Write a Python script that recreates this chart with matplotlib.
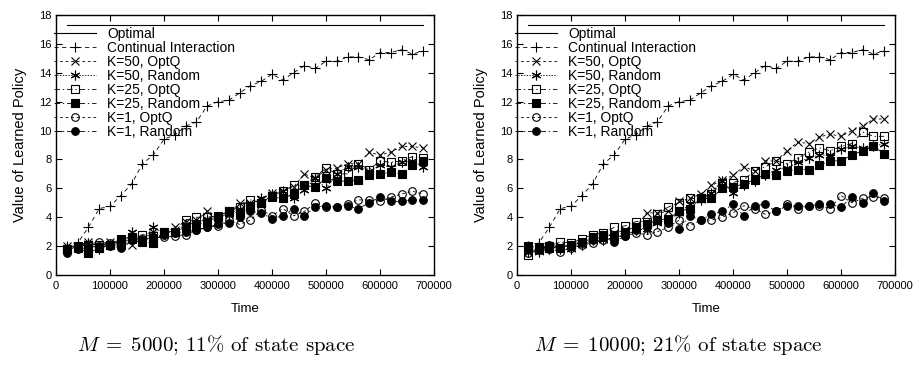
import numpy as np
import matplotlib
matplotlib.use("Agg")
import matplotlib.pyplot as plt

plt.rcParams['font.family'] = ['Liberation Sans', 'DejaVu Sans']
plt.rcParams['mathtext.fontset'] = 'cm'
plt.rcParams['lines.scale_dashes'] = False

# --- data ---
time = np.arange(20000, 700000, 20000)
optimal_value = 17.3

continual = [2.0, 2.2, 3.3, 4.6, 4.75, 5.5, 6.3, 7.7, 8.3, 9.4, 9.7, 10.3, 10.6, 11.7, 12.0, 12.1, 12.6,
             13.1, 13.4, 13.9, 13.5, 14.0, 14.5, 14.3, 14.8, 14.8, 15.1, 15.1, 14.9, 15.4, 15.4, 15.6, 15.3, 15.5]

# M = 5000
m5_k50_optq = [2.0, 2.0, 2.3, 2.0, 2.3, 2.2, 2.1, 2.5, 3.0, 2.9, 3.3, 3.7, 3.8, 4.4, 4.1, 4.2, 5.0,
               5.0, 5.2, 5.7, 5.8, 6.1, 7.0, 6.7, 7.3, 7.4, 7.7, 7.7, 8.5, 8.3, 8.5, 8.9, 8.9, 8.8]
m5_k50_rand = [1.9, 2.0, 2.2, 1.8, 2.1, 2.0, 3.0, 2.4, 3.3, 2.9, 3.0, 3.5, 3.6, 3.9, 4.0, 4.2, 4.6,
               4.8, 5.3, 5.6, 5.8, 5.3, 5.9, 6.7, 6.0, 7.0, 7.5, 7.5, 7.2, 7.6, 7.5, 7.8, 7.9, 7.5]
m5_k25_optq = [1.8, 2.0, 2.1, 2.1, 2.1, 2.3, 2.5, 2.8, 2.7, 3.0, 3.0, 3.8, 4.0, 4.0, 4.1, 4.4, 4.7,
               5.2, 5.0, 5.5, 5.8, 6.2, 6.2, 6.8, 7.4, 7.0, 7.0, 7.7, 7.3, 7.9, 7.8, 7.9, 8.2, 8.1]
m5_k25_rand = [1.8, 1.9, 1.5, 1.9, 2.1, 2.5, 2.6, 2.3, 2.2, 3.0, 3.0, 3.3, 3.5, 3.7, 4.0, 4.4, 4.3,
               4.8, 5.0, 5.4, 5.3, 5.6, 6.2, 6.1, 6.7, 6.5, 6.5, 6.6, 6.9, 7.0, 7.1, 7.0, 7.6, 7.9]
m5_k1_optq = [1.7, 2.0, 2.1, 2.3, 2.2, 2.1, 2.6, 2.5, 2.6, 2.6, 2.7, 2.8, 3.1, 3.3, 3.4, 3.8, 3.5,
              3.8, 4.5, 4.1, 4.6, 4.1, 4.4, 5.0, 4.7, 4.7, 4.9, 5.2, 5.2, 5.1, 5.4, 5.6, 5.8, 5.6]
m5_k1_rand = [1.5, 1.8, 1.9, 2.0, 2.0, 1.9, 2.4, 2.4, 2.6, 2.8, 2.9, 3.0, 3.1, 3.3, 3.5, 3.6, 4.0,
              4.4, 4.3, 3.9, 4.1, 4.6, 4.1, 4.7, 4.8, 4.7, 4.8, 4.6, 5.0, 5.4, 5.1, 5.1, 5.2, 5.2]

# M = 10000
m10_k50_optq = [1.6, 1.8, 2.0, 2.0, 2.0, 2.3, 2.5, 2.6, 2.9, 3.1, 3.3, 4.3, 4.3, 4.4, 5.1, 5.3, 5.6,
                6.2, 6.55, 6.9, 7.5, 7.2, 7.9, 7.9, 8.6, 9.2, 9.1, 9.55, 9.75, 9.6, 10.0, 10.3, 10.8, 10.8]
m10_k50_rand = [1.6, 1.6, 1.8, 1.8, 1.8, 2.1, 2.4, 2.4, 2.6, 2.8, 3.1, 3.2, 3.6, 3.8, 4.3, 4.9, 5.2,
                5.7, 6.5, 5.7, 6.2, 6.5, 6.9, 7.3, 7.4, 7.8, 8.1, 8.3, 8.3, 8.7, 8.9, 8.8, 8.9, 9.1]
m10_k25_optq = [1.4, 1.9, 2.0, 2.3, 2.2, 2.5, 2.8, 2.9, 3.3, 3.4, 3.7, 3.7, 4.2, 4.7, 5.0, 5.3, 5.3,
                5.6, 6.4, 6.4, 6.6, 7.2, 7.5, 7.9, 7.7, 8.1, 8.5, 8.8, 8.6, 8.9, 9.1, 9.9, 9.6, 9.6]
m10_k25_rand = [2.0, 1.8, 1.9, 1.9, 2.1, 2.3, 2.6, 2.8, 2.7, 3.0, 3.3, 3.5, 3.8, 3.9, 4.4, 4.6, 5.3,
                5.3, 6.0, 6.1, 6.3, 6.6, 7.0, 6.9, 7.2, 7.3, 7.3, 7.6, 7.9, 7.9, 8.3, 8.6, 8.9, 8.4]
m10_k1_optq = [1.5, 1.7, 1.8, 1.6, 1.9, 2.1, 2.2, 2.4, 2.6, 2.7, 2.9, 2.8, 3.0, 3.3, 3.8, 3.4, 3.8,
               3.8, 4.0, 4.3, 4.8, 4.6, 4.2, 4.4, 4.9, 4.6, 4.8, 4.8, 4.6, 5.5, 5.0, 5.3, 5.4, 5.3]
m10_k1_rand = [1.8, 1.8, 2.1, 1.9, 2.1, 2.2, 2.4, 2.6, 2.3, 2.7, 3.1, 3.3, 3.8, 3.6, 3.2, 4.1, 3.8,
               4.2, 4.4, 4.9, 4.1, 4.8, 4.9, 4.4, 4.8, 4.8, 4.8, 4.9, 4.9, 4.7, 5.4, 5.0, 5.7, 5.1]

labels = ["Optimal", "Continual Interaction", "K=50, OptQ", "K=50, Random",
          "K=25, OptQ", "K=25, Random", "K=1, OptQ", "K=1, Random"]
captions = [r"$M\;=\;5000$; 11% of state space", r"$M\;=\;10000$; 21% of state space"]

# gnuplot-like styles: (linestyle, marker, filled, size)
styles = [
    ((0, (3, 2.5)), "+", False, 7),
    ((0, (2, 2)), "x", False, 6),
    ((0, (1, 1)), (6, 2, 0), False, 7),
    ((0, (4, 2, 1, 2)), "s", False, 5.5),
    ((0, (4, 2, 1, 2)), "s", True, 5.5),
    ((0, (2, 2)), "o", False, 5.5),
    ((0, (4, 2, 1, 2)), "o", True, 5.5),
]


def draw(ax, series):
    ax.plot(time, [optimal_value] * len(time), color="black", lw=0.8, label=labels[0])
    for vals, lab, (ls, mk, filled, ms) in zip(series, labels[1:], styles):
        ax.plot(time, vals, color="black", lw=0.6, linestyle=ls, marker=mk, ms=ms,
                mew=0.8, mfc="black" if filled else "none", mec="black", label=lab)
    ax.set_xlim(0, 700000)
    ax.set_ylim(0, 18)
    ax.set_xticks(np.arange(0, 700001, 100000))
    ax.set_yticks(np.arange(0, 19, 2))
    ax.tick_params(direction="in", length=4.5, width=0.8, top=True, right=True, labelsize=8)
    ax.tick_params(axis="y", pad=3)
    ax.tick_params(axis="x", pad=4)
    for s in ax.spines.values():
        s.set_linewidth(1.0)
    ax.set_xlabel("Time", fontsize=9.5, labelpad=9)
    ax.set_ylabel("Value of Learned Policy", fontsize=10.5, labelpad=9)
    ax.legend(loc="upper left", bbox_to_anchor=(-0.005, 0.955), frameon=False, fontsize=10,
              handlelength=3.0, handletextpad=0.8, labelspacing=0.0, borderpad=0.0,
              borderaxespad=0.0, numpoints=1)


fig = plt.figure(figsize=(9.19, 3.67), dpi=100)
ax1 = fig.add_axes([56 / 919, 92 / 367, 378 / 919, 260 / 367])
ax2 = fig.add_axes([517 / 919, 92 / 367, 378 / 919, 260 / 367])

draw(ax1, [continual, m5_k50_optq, m5_k50_rand, m5_k25_optq, m5_k25_rand, m5_k1_optq, m5_k1_rand])
draw(ax2, [continual, m10_k50_optq, m10_k50_rand, m10_k25_optq, m10_k25_rand, m10_k1_optq, m10_k1_rand])

fig.text(216 / 919, 1 - 345 / 367, captions[0], ha="center", va="center",
         fontsize=15, family="cmr10")
fig.text(678 / 919, 1 - 345 / 367, captions[1], ha="center", va="center",
         fontsize=15, family="cmr10")

fig.savefig("out.png", dpi=100)
